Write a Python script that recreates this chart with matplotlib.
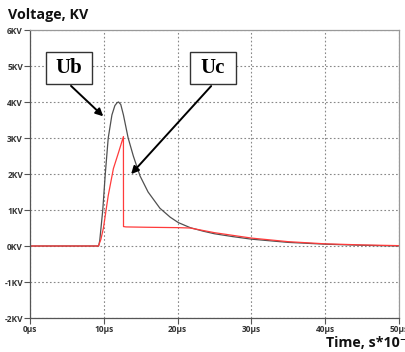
import matplotlib
matplotlib.use("Agg")
import matplotlib.pyplot as plt
from matplotlib.patches import Rectangle

# ---- data ----
t_ub = [0, 9.3, 9.45, 9.86, 10.2, 10.6, 11.1, 11.5, 11.8, 12.0, 12.3, 12.66, 13.3, 14.0, 14.9, 16.0, 17.6, 19.0, 20.1, 21.7, 23.5, 25, 27.5, 30, 35, 40, 45, 50]
v_ub = [0, 0, 0.15, 1.0, 2.0, 3.0, 3.64, 3.9, 3.98, 4.0, 3.93, 3.64, 3.0, 2.5, 1.95, 1.5, 1.05, 0.8, 0.65, 0.51, 0.41, 0.34, 0.26, 0.19, 0.1, 0.05, 0.02, 0.0]
t_uc = [0, 9.27, 9.6, 9.95, 10.6, 11.3, 12.0, 12.66, 12.67, 13, 16, 20, 21.7, 25, 30, 35, 40, 45, 50]
v_uc = [0, 0, 0.18, 0.5, 1.4, 2.15, 2.6, 3.04, 0.54, 0.53, 0.52, 0.51, 0.5, 0.37, 0.22, 0.12, 0.06, 0.03, 0.01]
x_ticks = [0, 10, 20, 30, 40, 50]
x_labels = ["0µs", "10µs", "20µs", "30µs", "40µs", "50µs"]
y_ticks = [-2, -1, 0, 1, 2, 3, 4, 5, 6]
y_labels = ["-2KV", "-1KV", "0KV", "1KV", "2KV", "3KV", "4KV", "5KV", "6KV"]

plt.rcParams['font.family'] = ['Open Sans', 'DejaVu Sans']

fig = plt.figure(figsize=(4.06, 3.52), dpi=100)
ax = fig.add_axes([30/406, 1-318/352, (399-30)/406, (318-30)/352])

ax.plot(t_ub, v_ub, color="#505050", lw=0.9)
ax.plot(t_uc, v_uc, color="#ff3b3b", lw=0.9)

ax.set_xlim(0, 50)
ax.set_ylim(-2, 6)
ax.set_xticks(x_ticks)
ax.set_xticklabels(x_labels, fontsize=6, fontweight='bold', color="#333333")
ax.set_yticks(y_ticks)
ax.set_yticklabels(y_labels, fontsize=6, fontweight='bold', color="#333333")
ax.tick_params(length=4, width=0.8, color="#555555", pad=1)
ax.grid(True, linestyle=(0, (1.5, 2)), color="#888888", lw=0.8)
for s in ['top', 'right']:
    ax.spines[s].set_color("#999999")
for s in ['left', 'bottom']:
    ax.spines[s].set_color("#555555")
for s in ax.spines.values():
    s.set_linewidth(0.9)

# annotation boxes
for (x0, x1, lab, tip) in [(2.17, 8.4, "Ub", (10.2, 3.55)), (21.7, 27.9, "Uc", (13.45, 1.94))]:
    ax.add_patch(Rectangle((x0, 4.5), x1 - x0, 0.89, facecolor="white", edgecolor="#333333", lw=1.0, zorder=5))
    ax.text((x0 + x1) / 2, 4.94, lab, ha='center', va='center', fontsize=15, fontweight='bold',
            family='Liberation Serif', zorder=6)
    ax.annotate("", xy=tip, xytext=((x0 + x1) / 2, 4.5),
                arrowprops=dict(arrowstyle='-|>', color='black', lw=1.4, mutation_scale=11), zorder=6)

fig.text(8/406, 1-15/352, "Voltage, KV", fontsize=10.3, fontweight='bold', va='center', ha='left', color="#111111")
fig.text(326/406, 1-343/352, "Time, s*10⁻⁶", fontsize=10.3, fontweight='bold', va='center', ha='left',
         color="#111111", family=['Open Sans', 'DejaVu Sans'])

fig.savefig("out.png", dpi=100)
